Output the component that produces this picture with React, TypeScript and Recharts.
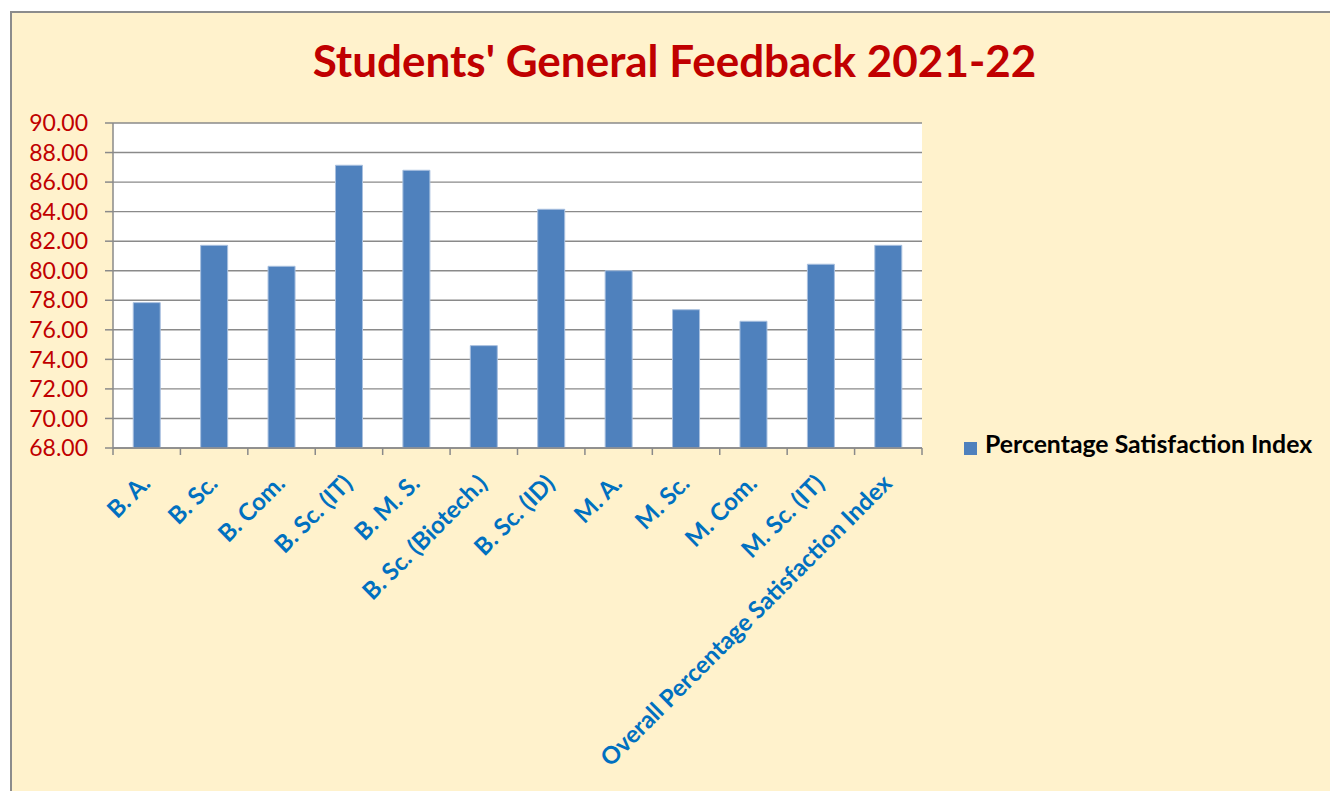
import React from 'react';
import { BarChart, Bar, XAxis, YAxis, CartesianGrid, Legend } from 'recharts';

const courses = [
  'B. A.',
  'B. Sc.',
  'B. Com.',
  'B. Sc. (IT)',
  'B. M. S.',
  'B. Sc. (Biotech.)',
  'B. Sc. (ID)',
  'M. A.',
  'M. Sc.',
  'M. Com.',
  'M. Sc. (IT)',
  'Overall Percentage Satisfaction Index',
];
const satisfaction = [77.84, 81.72, 80.3, 87.14, 86.8, 74.93, 84.16, 80.0, 77.36, 76.58, 80.44, 81.72];
const yTicks = [68, 70, 72, 74, 76, 78, 80, 82, 84, 86, 88, 90];

const seriesName = 'Percentage Satisfaction Index';
const data = courses.map((name, i) => ({ name, value: satisfaction[i] }));

const FONT = 'Lato, "Open Sans", sans-serif';
const GRID = '#8a8a8a';

// category labels, plus Excel-style ticks on the category boundaries
const CourseTick = (props: any) => {
  const { x, y, payload, index } = props;
  const half = payload.offset || 0;
  const top = y - 7;
  return (
    <g>
      {index === 0 && <line x1={x - half} x2={x - half} y1={top} y2={y} stroke={GRID} strokeWidth={1.5} />}
      <line x1={x + half} x2={x + half} y1={top} y2={y} stroke={GRID} strokeWidth={1.5} />
      <g transform={`translate(${x + 5},${y + 30})`}>
        <text
          transform="rotate(-45)"
          textAnchor="end"
          fill="#0070C0"
          fontFamily={FONT}
          fontWeight="bold"
          fontSize={24}
        >
          {payload.value}
        </text>
      </g>
    </g>
  );
};

export default function App() {
  return (
    <div style={{ position: 'relative', width: 1330, height: 791, background: '#fff', fontFamily: FONT }}>
      <style>{'body{margin:0;overflow:hidden}'}</style>
      <div
        style={{
          position: 'absolute',
          left: 10,
          top: 11,
          width: 1320,
          height: 780,
          background: '#FFF2CC',
          borderLeft: '2px solid #8c8c8c',
          borderTop: '2px solid #8c8c8c',
          boxSizing: 'border-box',
        }}
      />
      <div
        style={{
          position: 'absolute',
          left: 0,
          width: 1349,
          top: 38,
          textAlign: 'center',
          color: '#C00000',
          fontWeight: 'bold',
          fontSize: 44,
          lineHeight: '44px',
        }}
      >
        Students' General Feedback 2021-22
      </div>
      <div style={{ position: 'absolute', left: 0, top: 0 }}>
        <BarChart
          width={1330}
          height={791}
          data={data}
          margin={{ top: 123, right: 408, bottom: 43, left: 33 }}
          barCategoryGap="30%"
        >
          <CartesianGrid vertical={false} stroke={GRID} strokeWidth={1.4} fill="#ffffff" fillOpacity={1} />
          <XAxis
            dataKey="name"
            interval={0}
            height={300}
            tickSize={7}
            tickMargin={0}
            tickLine={false}
            axisLine={{ stroke: GRID, strokeWidth: 1.5 }}
            tick={<CourseTick />}
          />
          <YAxis
            width={80}
            domain={[68, 90]}
            ticks={yTicks}
            interval={0}
            allowDataOverflow
            tickFormatter={(v: number) => v.toFixed(2)}
            tickSize={8}
            tickMargin={17}
            axisLine={{ stroke: GRID, strokeWidth: 1.5 }}
            tickLine={{ stroke: GRID, strokeWidth: 1.5 }}
            tick={{ fill: '#C00000', fontSize: 23, fontFamily: FONT }}
          />
          <Legend
            layout="vertical"
            align="center"
            verticalAlign="middle"
            iconType="square"
            iconSize={13}
            wrapperStyle={{ left: 964, top: 429, width: 366, fontFamily: FONT }}
            formatter={(value: string) => (
              <span style={{ color: '#000', fontWeight: 'bold', fontSize: 24.8, marginLeft: 4 }}>{value}</span>
            )}
          />
          <Bar
            dataKey="value"
            name={seriesName}
            fill="#4F81BD"
            stroke="#a9c0df"
            strokeWidth={1}
            isAnimationActive={false}
          />
        </BarChart>
      </div>
    </div>
  );
}
